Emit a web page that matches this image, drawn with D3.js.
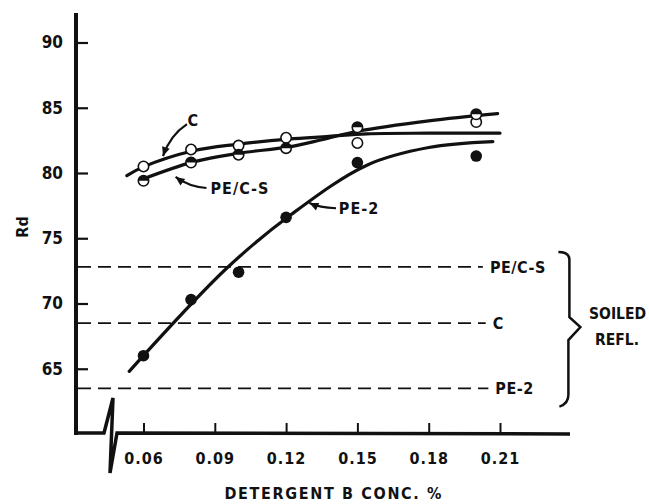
<!DOCTYPE html>
<html>
<head>
<meta charset="utf-8">
<script src="https://cdn.jsdelivr.net/npm/d3@7"></script>
<style>
  html, body { margin: 0; padding: 0; background: #fff; overflow: hidden; }
  text { font-family: "DejaVu Sans Condensed", "DejaVu Sans", sans-serif; font-weight: bold; fill: #111; }
</style>
</head>
<body>
<div class="div_chart"></div>
<script>
// measured points
const conc = [0.06, 0.08, 0.10, 0.12, 0.15, 0.20];
const rdC = [80.5, 81.8, 82.1, 82.7, 82.3, 83.9];
const rdPECS = [79.4, 80.8, 81.4, 81.9, 83.5, 84.5];
const rdPE2 = [66.0, 70.3, 72.4, 76.6, 80.8, 81.3];

// hand drawn fit curves
const fitConcC = [0.053, 0.0597, 0.081, 0.0995, 0.121, 0.138, 0.154, 0.18, 0.21];
const fitRdC = [79.8, 80.45, 81.7, 82.2, 82.6, 82.8, 83.0, 83.05, 83.05];
const fitConcPECS = [0.0585, 0.081, 0.0995, 0.121, 0.135, 0.15, 0.18, 0.209];
const fitRdPECS = [79.45, 80.85, 81.5, 82.0, 82.55, 83.2, 84.0, 84.55];
const fitConcPE2 = [0.054, 0.095, 0.122, 0.154, 0.18, 0.207];
const fitRdPE2 = [64.8, 72.7, 76.8, 80.6, 81.95, 82.4];

// soiled reflectance levels
const soiledNames = ["PE/C-S", "C", "PE-2"];
const soiledRd = [72.8, 68.5, 63.5];

const xTicks = [0.06, 0.09, 0.12, 0.15, 0.18, 0.21];
const yTicks = [65, 70, 75, 80, 85, 90];

const width = 649, height = 504;
const axisX = 76, axisY = 433;

const svg = d3.select(".div_chart")
  .append("svg")
    .attr("width", width)
    .attr("height", height);

const x = d3.scaleLinear().domain([0.06, 0.21]).range([143.5, 500]);
const y = d3.scaleLinear().domain([60, 90]).range([434, 42.5]);

const ink = "#111";

// y axis
svg.append("g")
  .attr("transform", `translate(${axisX},0)`)
  .call(d3.axisLeft(y).tickValues(yTicks).tickSize(-12).tickPadding(13))
  .call(g => g.select(".domain").remove())
  .call(g => g.selectAll("line").attr("stroke", ink).attr("stroke-width", 2.2))
  .call(g => g.selectAll("text").attr("font-size", 17).attr("fill", ink)
    .attr("font-family", null));

svg.append("line")
  .attr("x1", axisX).attr("x2", axisX)
  .attr("y1", 13).attr("y2", axisY + 2)
  .attr("stroke", ink).attr("stroke-width", 4);

// x axis
svg.append("g")
  .attr("transform", `translate(0,${axisY})`)
  .call(d3.axisBottom(x).tickValues(xTicks).tickSize(-10).tickPadding(20)
    .tickFormat(d3.format(".2f")))
  .call(g => g.select(".domain").remove())
  .call(g => g.selectAll("line").attr("stroke", ink).attr("stroke-width", 2))
  .call(g => g.selectAll("text").attr("font-size", 16).attr("fill", ink)
    .attr("letter-spacing", 1).attr("font-family", null));

// axis line with break
svg.append("path")
  .attr("d", d3.line()([[axisX, axisY], [104, axisY], [113, axisY - 35],
    [110, axisY + 40], [117, axisY], [570, axisY + 1]]))
  .attr("fill", "none")
  .attr("stroke", ink)
  .attr("stroke-width", 3.5)
  .attr("stroke-linejoin", "miter");

svg.append("text")
  .attr("x", 333).attr("y", 493)
  .attr("text-anchor", "middle")
  .attr("dy", "0.35em")
  .attr("font-size", 16)
  .attr("textLength", 217)
  .text("DETERGENT  B  CONC. %");

svg.append("text")
  .attr("transform", "translate(22,227) rotate(-90)")
  .attr("text-anchor", "middle")
  .attr("dy", "0.35em")
  .attr("font-size", 16)
  .text("Rd");

// dashed soiled lines
const soiled = soiledNames.map((n, i) => ({name: n, rd: soiledRd[i]}));
const dashEnd = [0.2028, 0.204, 0.2051];
svg.append("g")
  .selectAll("line")
  .data(soiled)
  .join("line")
    .attr("x1", axisX + 2)
    .attr("x2", (d, i) => x(dashEnd[i]))
    .attr("y1", d => y(d.rd))
    .attr("y2", d => y(d.rd))
    .attr("stroke", ink)
    .attr("stroke-width", 1.8)
    .attr("stroke-dasharray", "13,7");

svg.append("g")
  .selectAll("text")
  .data(soiled)
  .join("text")
    .attr("x", (d, i) => x(dashEnd[i]) + 7)
    .attr("y", d => y(d.rd))
    .attr("dy", "0.36em")
    .attr("font-size", 16)
    .attr("letter-spacing", 0.5)
    .text(d => d.name);

// brace
const bx = x(0.2392);
svg.append("path")
  .attr("d", `M${bx - 11},${y(73.95)} Q${bx},${y(73.95)} ${bx},${y(73.95) + 8}
    L${bx},${y(68.95)} L${bx + 11},${y(68.2)} L${bx - 1},${y(67.2)}
    L${bx - 1},${y(63.0)} Q${bx - 1},${y(62.3)} ${bx - 10},${y(62.1)}`)
  .attr("fill", "none")
  .attr("stroke", ink)
  .attr("stroke-width", 2.5);

svg.append("text")
  .attr("x", 589).attr("y", 314)
  .attr("dy", "0.35em").attr("font-size", 15.5)
  .text("SOILED");
svg.append("text")
  .attr("x", 595).attr("y", 340)
  .attr("dy", "0.35em").attr("font-size", 15.5)
  .text("REFL.");

// fitted curves
const line = d3.line()
  .x(d => x(d[0]))
  .y(d => y(d[1]))
  .curve(d3.curveCatmullRom.alpha(0.5));

const fits = [
  d3.zip(fitConcC, fitRdC),
  d3.zip(fitConcPECS, fitRdPECS),
  d3.zip(fitConcPE2, fitRdPE2)
];

svg.append("g")
  .selectAll("path")
  .data(fits)
  .join("path")
    .attr("d", line)
    .attr("fill", "none")
    .attr("stroke", ink)
    .attr("stroke-width", 3.2)
    .attr("stroke-linecap", "round");

// markers
const r = 5.2;
svg.append("g")
  .selectAll("circle")
  .data(d3.zip(conc, rdC))
  .join("circle")
    .attr("cx", d => x(d[0]))
    .attr("cy", d => y(d[1]))
    .attr("r", r)
    .attr("fill", "#fff")
    .attr("stroke", ink)
    .attr("stroke-width", 1.6);

const half = svg.append("g")
  .selectAll("g")
  .data(d3.zip(conc, rdPECS))
  .join("g")
    .attr("transform", d => `translate(${x(d[0])},${y(d[1])})`);
half.append("circle")
  .attr("r", r)
  .attr("fill", "#fff")
  .attr("stroke", ink)
  .attr("stroke-width", 1.6);
half.append("path")
  .attr("d", `M${-r},0 A${r},${r} 0 0 1 ${r},0 Z`)
  .attr("fill", ink);

svg.append("g")
  .selectAll("circle")
  .data(d3.zip(conc, rdPE2))
  .join("circle")
    .attr("cx", d => x(d[0]))
    .attr("cy", d => y(d[1]))
    .attr("r", r + 0.6)
    .attr("fill", ink);

// curve labels with arrows
const arrow = (pts, label) => {
  const p = pts.map(d => [x(d[0]), y(d[1])]);
  svg.append("path")
    .attr("d", `M${p[0][0]},${p[0][1]} Q${p[1][0]},${p[1][1]} ${p[2][0]},${p[2][1]}`)
    .attr("fill", "none")
    .attr("stroke", ink)
    .attr("stroke-width", 2.2);
  const a = Math.atan2(p[2][1] - p[1][1], p[2][0] - p[1][0]);
  const L = 9, W = 4;
  const tip = p[2];
  const bxh = tip[0] - L * Math.cos(a), byh = tip[1] - L * Math.sin(a);
  svg.append("path")
    .attr("d", `M${tip[0]},${tip[1]} L${bxh - W * Math.sin(a)},${byh + W * Math.cos(a)} L${bxh + W * Math.sin(a)},${byh - W * Math.cos(a)} Z`)
    .attr("fill", ink);
  svg.append("text")
    .attr("x", x(label.at[0]))
    .attr("y", y(label.at[1]))
    .attr("dy", "0.35em")
    .attr("text-anchor", label.anchor)
    .attr("font-size", 16)
    .attr("letter-spacing", 1)
    .text(label.text);
};

arrow([[0.0783, 83.75], [0.0712, 82.9], [0.0682, 81.3]],
  {text: "C", at: [0.0785, 84.06], anchor: "start"});
arrow([[0.0865, 78.85], [0.079, 78.95], [0.0735, 79.7]],
  {text: "PE/C-S", at: [0.0882, 78.83], anchor: "start"});
arrow([[0.141, 77.3], [0.134, 77.35], [0.1298, 77.7]],
  {text: "PE-2", at: [0.1422, 77.3], anchor: "start"});
</script>
</body>
</html>
